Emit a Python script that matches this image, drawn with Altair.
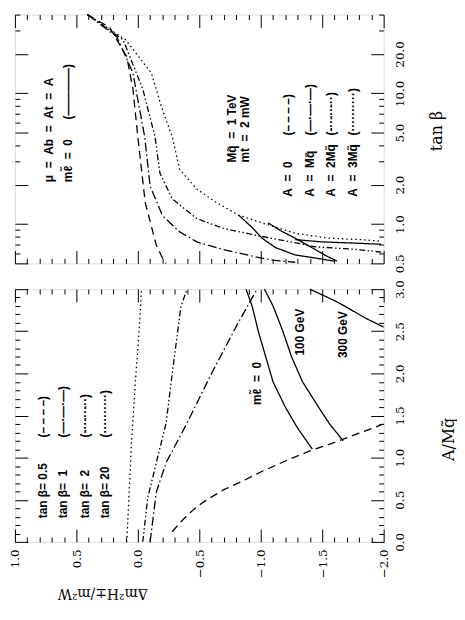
import altair as alt
import pandas as pd

# ---------------- lower panel : x = Δm²/m²W , y = A / M_q ----------------
lo_tb05_d = [-0.28, -0.35, -0.45, -0.55, -0.70, -0.85, -1.00, -1.20, -1.40, -1.60, -1.80, -2.00]
lo_tb05_a = [0.12, 0.24, 0.38, 0.49, 0.62, 0.72, 0.83, 0.96, 1.08, 1.18, 1.29, 1.40]
lo_tb1_d = [-0.10, -0.15, -0.23, -0.40, -0.60, -0.82, -0.97]
lo_tb1_a = [0.0, 0.59, 0.94, 1.41, 2.00, 2.61, 3.00]
lo_tb2_d = [-0.04, -0.08, -0.15, -0.23, -0.28, -0.35, -0.40]
lo_tb2_a = [0.0, 0.52, 0.94, 1.41, 2.00, 2.79, 3.00]
lo_tb20_d = [0.09, 0.07, 0.05, 0.02, -0.01, -0.03]
lo_tb20_a = [0.0, 0.60, 1.22, 1.90, 2.50, 3.00]
lo_m0_d = [-0.88, -0.93, -0.98, -1.04, -1.10, -1.20, -1.30, -1.42]
lo_m0_a = [3.00, 2.80, 2.50, 2.20, 1.90, 1.60, 1.35, 1.10]
lo_m100_d = [-1.03, -1.10, -1.18, -1.25, -1.34, -1.47, -1.56, -1.67]
lo_m100_a = [3.00, 2.80, 2.50, 2.20, 1.90, 1.60, 1.40, 1.20]
lo_m300_d = [-1.40, -1.62, -1.74, -1.86, -2.00]
lo_m300_a = [3.00, 2.85, 2.75, 2.65, 2.55]

# ---------------- upper panel : x = Δm²/m²W , y = tan β ----------------
up_a0_d = [0.41, 0.23, 0.09, 0.04, 0.00, -0.06, -0.15, -0.20, -0.23]
up_a0_t = [40, 32, 19, 10.8, 4.63, 1.46, 0.69, 0.55, 0.50]
up_a1_d = [0.41, 0.17, 0.04, -0.056, -0.10, -0.20, -0.34, -0.48, -0.69, -0.96, -1.09, -1.28]
up_a1_t = [40, 27, 14.3, 4.63, 1.95, 1.16, 0.87, 0.73, 0.64, 0.56, 0.53, 0.51]
up_a2_d = [0.41, 0.12, -0.04, -0.14, -0.18, -0.28, -0.48, -0.69, -0.96, -1.28, -1.44, -1.77, -1.98]
up_a2_t = [40, 25.7, 10.8, 4.63, 2.44, 1.56, 1.10, 0.93, 0.82, 0.72, 0.67, 0.64, 0.61]
up_a3_d = [0.41, 0.10, -0.11, -0.19, -0.28, -0.34, -0.48, -0.64, -0.82, -1.01, -1.28, -1.55, -1.81, -1.98]
up_a3_t = [40, 25.7, 14.3, 8.0, 4.63, 2.62, 1.85, 1.46, 1.17, 1.02, 0.85, 0.78, 0.76, 0.74]
up_s1_d = [-0.82, -0.93, -1.01, -1.12, -1.28, -1.44, -1.60]
up_s1_t = [1.17, 0.94, 0.78, 0.66, 0.58, 0.55, 0.52]
up_s2_d = [-1.06, -1.17, -1.28, -1.44, -1.55, -1.62]
up_s2_t = [1.02, 0.88, 0.78, 0.64, 0.56, 0.52]
up_s3_d = [-1.28, -1.50, -1.75, -1.98]
up_s3_t = [0.76, 0.73, 0.715, 0.70]

# ---------------- tick values ----------------
x_major = [1.0, 0.5, 0.0, -0.5, -1.0, -1.5, -2.0]
x_minor = [round(-2.0 + 0.1 * k, 1) for k in range(31) if k % 5]
a_major = [0.0, 0.5, 1.0, 1.5, 2.0, 2.5, 3.0]
a_minor = [round(0.1 * k, 1) for k in range(31) if k % 5]
t_major = [0.5, 1, 2, 5, 10, 20]
t_minor = [0.6, 0.7, 0.8, 0.9, 3, 4, 6, 7, 8, 9, 30, 40]

DASH = {
    "dash": [8, 5],
    "dashdot": [9, 3, 1.5, 3],
    "dashdotdot": [6, 2.5, 1.5, 2.5, 1.5, 2.5],
    "dot": [1.5, 3],
    "solid": [1, 0],
}


def frame(rows):
    recs = []
    for name, style, ds, vs in rows:
        for i, (d, v) in enumerate(zip(ds, vs)):
            recs.append({"d": d, "v": v, "s": name, "st": style, "i": i})
    return pd.DataFrame(recs)


lo_df = frame([
    ("tb05", "dash", lo_tb05_d, lo_tb05_a),
    ("tb1", "dashdot", lo_tb1_d, lo_tb1_a),
    ("tb2", "dashdotdot", lo_tb2_d, lo_tb2_a),
    ("tb20", "dot", lo_tb20_d, lo_tb20_a),
    ("m0", "solid", lo_m0_d, lo_m0_a),
    ("m100", "solid", lo_m100_d, lo_m100_a),
    ("m300", "solid", lo_m300_d, lo_m300_a),
])
up_df = frame([
    ("a0", "dash", up_a0_d, up_a0_t),
    ("a1", "dashdot", up_a1_d, up_a1_t),
    ("a2", "dashdotdot", up_a2_d, up_a2_t),
    ("a3", "dot", up_a3_d, up_a3_t),
    ("s1", "solid", up_s1_d, up_s1_t),
    ("s2", "solid", up_s2_d, up_s2_t),
    ("s3", "solid", up_s3_d, up_s3_t),
])

W = 372
H_UP = 251
H_LO = 255
LFONT = "DejaVu Serif"
AFONT = "Liberation Sans"
NB = "\u00a0"


def xs():
    return alt.Scale(domain=[-2.0, 1.0], reverse=True, nice=False, zero=False)


def tick_axis(orient, values, size, labels=False, **kw):
    title = kw.pop("title", None)
    extra = {} if labels else {"maxExtent": 0}
    return alt.Axis(orient=orient, values=values, tickSize=size, offset=-size,
                    domain=False, grid=False, labels=labels, ticks=True,
                    tickColor="black", tickWidth=1, title=title,
                    minExtent=0, **extra, **kw)


def panel(df, yscale_fn, y_major, y_minor, H, xlabels, ylab_fmt, ytitle, ytitle_xy,
          xtitle=None, xtitle_xy=None, texts_left=None, texts_center=None):
    dash_dom = list(DASH.keys())
    dash_rng = [DASH[k] for k in dash_dom]

    xlab_kw = {}
    if xlabels:
        xlab_kw = dict(format=".1f", labelAngle=270, labelAlign="right",
                       labelBaseline="middle", labelPadding=7, labelFont=LFONT,
                       labelFontSize=12, labelColor="black", labelFlush=False,
                       labelOverlap=False)
        if xtitle:
            xlab_kw.update(title=xtitle, titleAngle=180, titleFont=LFONT, titleFontSize=14,
                           titleFontWeight="normal", titleX=xtitle_xy[0], titleY=xtitle_xy[1],
                           titleColor="black", titleAlign="center", titleBaseline="middle")
    ylab_kw = dict(format=ylab_fmt, labelAngle=270, labelAlign="center",
                   labelBaseline="top", labelPadding=11, labelFont=LFONT, labelFontSize=12,
                   labelColor="black", labelFlush=False, labelOverlap=False,
                   title=ytitle, titleAngle=270, titleFont=LFONT, titleFontSize=16,
                   titleFontWeight="normal", titleX=ytitle_xy[0], titleY=ytitle_xy[1],
                   titleColor="black", titleAlign="center", titleBaseline="middle")

    lines = alt.Chart(df).mark_line(color="black", strokeWidth=1.3).encode(
        x=alt.X("d:Q", scale=xs(), axis=tick_axis("bottom", x_major, 13, labels=xlabels, **xlab_kw)),
        y=alt.Y("v:Q", scale=yscale_fn(), axis=tick_axis("right", y_major, 13, labels=True, **ylab_kw)),
        strokeDash=alt.StrokeDash("st:N", scale=alt.Scale(domain=dash_dom, range=dash_rng), legend=None),
        detail="s:N",
        order="i:Q",
    )
    ghost = alt.Chart(df).mark_point(opacity=0, size=0, strokeWidth=0)
    g1 = ghost.encode(
        x=alt.X("d:Q", scale=xs(), axis=tick_axis("bottom", x_minor, 5)),
        y=alt.Y("v:Q", scale=yscale_fn(), axis=tick_axis("right", y_minor, 5)),
    )
    g2 = ghost.encode(
        x=alt.X("d:Q", scale=xs(), axis=tick_axis("top", x_major, 13)),
        y=alt.Y("v:Q", scale=yscale_fn(), axis=tick_axis("left", y_major, 13)),
    )
    g3 = ghost.encode(
        x=alt.X("d:Q", scale=xs(), axis=tick_axis("top", x_minor, 5)),
        y=alt.Y("v:Q", scale=yscale_fn(), axis=tick_axis("left", y_minor, 5)),
    )
    layers = [lines, g1, g2, g3]
    for texts, align in ((texts_left, "left"), (texts_center, "center")):
        if texts:
            tdf = pd.DataFrame(texts, columns=["d", "v", "txt"])
            tl = alt.Chart(tdf).mark_text(angle=270, align=align, baseline="middle",
                                          font=AFONT, fontWeight="bold", fontSize=12,
                                          color="black").encode(
                x=alt.X("d:Q", scale=xs(), axis=None),
                y=alt.Y("v:Q", scale=yscale_fn(), axis=None),
                text="txt:N",
            )
            layers.append(tl)
    return alt.layer(*layers).resolve_scale(x="independent", y="independent", strokeDash="independent") \
        .resolve_axis(x="independent", y="independent").properties(width=W, height=H)


def ys_up():
    return alt.Scale(type="log", domain=[0.5, 40], nice=False, zero=False)


def ys_lo():
    return alt.Scale(domain=[0, 3], nice=False, zero=False)


S2 = NB * 2
up_left = [
    (0.726, 2.09, f"μ{S2}={S2}Ab{S2}={S2}At{S2}={S2}A"),
    (0.565, 2.09, f"mℓ̃{S2}={S2}0"),
    (0.565, 6.3, "(————)"),
    (-0.77, 2.95, f"Mq̃{S2}={S2}1{NB}TeV"),
    (-0.87, 2.95, f"mt{S2}={S2}2{NB}mW"),
    (-1.226, 1.62, f"A{S2}={S2}0"),
    (-1.405, 1.62, f"A{S2}={S2}Mq̃"),
    (-1.575, 1.62, f"A{S2}={S2}2Mq̃"),
    (-1.75, 1.62, f"A{S2}={S2}3Mq̃"),
    (-1.226, 4.75, "(–\u2009–\u2009–\u2009–)"),
    (-1.405, 4.75, "(—·—·—)"),
    (-1.575, 4.75, "(-··-··-··)"),
    (-1.75, 4.75, "(··········)"),
]
lo_left = [
    (0.774, 0.28, f"tan{NB}β={NB}0.5"),
    (0.605, 0.28, f"tan{NB}β={NB}{NB}1"),
    (0.427, 0.28, f"tan{NB}β={NB}{NB}2"),
    (0.266, 0.28, f"tan{NB}β={NB}20"),
    (0.774, 1.24, "(–\u2009–\u2009–\u2009–)"),
    (0.605, 1.24, "(—·—·—)"),
    (0.427, 1.24, "(-··-··-··)"),
    (0.266, 1.24, "(··········)"),
]
lo_center = [
    (-0.968, 1.88, f"mℓ̃{S2}={S2}0"),
    (-1.32, 2.49, f"100{NB}GeV"),
    (-1.67, 2.46, f"300{NB}GeV"),
]

top = panel(up_df, ys_up, t_major, t_minor, H_UP, False, ".1f", "tan β", (66, 117),
            texts_left=up_left)
bot = panel(lo_df, ys_lo, a_major, a_minor, H_LO, True, ".1f", "A/Mq̃", (78, 151),
            xtitle="Δm²H±/m²W", xtitle_xy=(88, 64), texts_left=lo_left, texts_center=lo_center)

chart = alt.vconcat(top, bot, spacing=4).properties(
    padding={"left": 0, "top": 0, "right": 0, "bottom": 0}
).configure_view(stroke="black", strokeWidth=1.3).configure(background="white")

chart.save("out.html", embed_options={"renderer": "svg", "actions": False})
